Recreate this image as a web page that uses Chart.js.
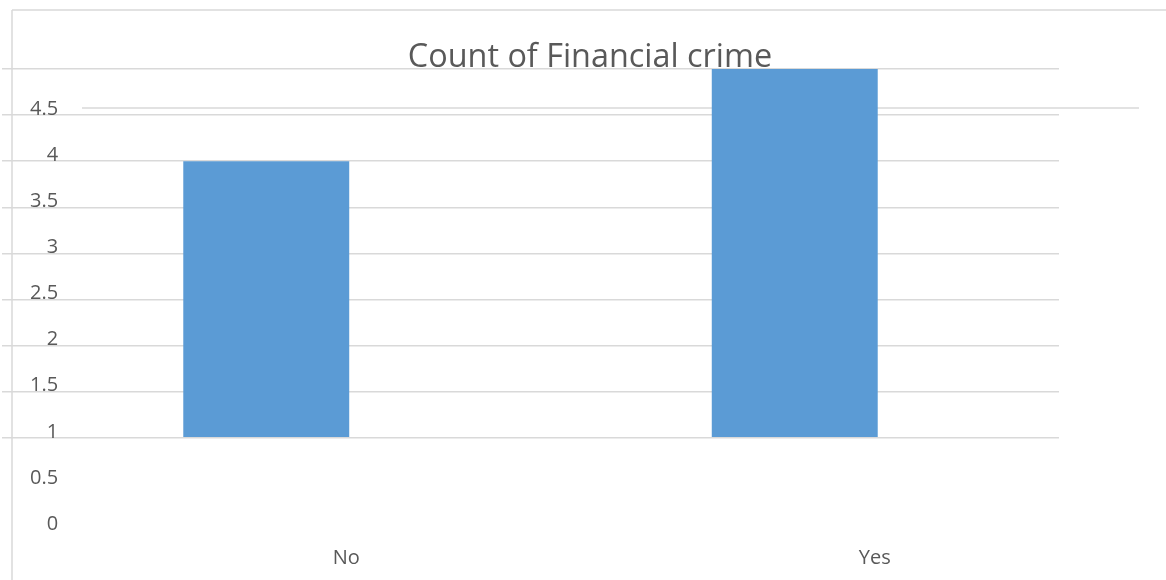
<!DOCTYPE html>
<html>
<head>
<meta charset="utf-8">
<script src="https://cdn.jsdelivr.net/npm/chart.js@4"></script>
<style>
  html, body { margin: 0; padding: 0; background: #fff; }
  #wrap { width: 1166px; height: 580px; position: relative; }
</style>
</head>
<body>
<div id="wrap"><canvas id="crime"></canvas></div>
<script>
const categories = ["No", "Yes"];
const counts = [4, 5];
const yTickLabels = ["0", "0.5", "1", "1.5", "2", "2.5", "3", "3.5", "4", "4.5"];
const chartTitle = "Count of Financial crime";

const lineGrey = "#d9d9d9";
const textGrey = "#595959";

// frame lines and the title text
const frame = {
  id: "frame",
  beforeDatasetsDraw(chart) {
    const c = chart.ctx;
    c.save();
    c.strokeStyle = lineGrey;
    c.lineWidth = 1.5;
    c.beginPath();
    c.moveTo(12, 10); c.lineTo(12, 580);
    c.moveTo(12, 10); c.lineTo(1166, 10);
    c.moveTo(82, 108); c.lineTo(1139, 108);
    c.stroke();
    c.restore();
  },
  afterDraw(chart) {
    const c = chart.ctx;
    c.save();
    c.fillStyle = textGrey;
    c.font = "32.4px 'Open Sans'";
    c.textAlign = "center";
    c.textBaseline = "alphabetic";
    c.fillText(chartTitle, 590, 67);
    c.restore();
  }
};

const ctx = document.getElementById("crime");
new Chart(ctx, {
  type: "bar",
  data: {
    labels: categories,
    datasets: [{
      label: "Count",
      data: counts,
      base: 1,
      backgroundColor: "#5b9bd5",
      categoryPercentage: 0.314,
      barPercentage: 1
    }]
  },
  options: {
    responsive: true,
    maintainAspectRatio: false,
    animation: false,
    // the mirrored y axis still reserves its own width, so pull it off the left edge
    layout: { padding: { top: 69, left: -54, right: 107, bottom: -6 } },
    plugins: {
      legend: { display: false },
      tooltip: { enabled: false }
    },
    scales: {
      x: {
        offset: true,
        grid: { display: false, drawTicks: false },
        border: { display: false },
        ticks: {
          color: textGrey,
          font: { family: "'Open Sans'", size: 20 },
          padding: 16,
          labelOffset: 80
        }
      },
      y: {
        min: 0,
        max: 5,
        border: { display: false },
        grid: {
          drawTicks: false,
          lineWidth: 1.5,
          color: (c) => (c.tick && c.tick.value >= 1 ? lineGrey : "rgba(0,0,0,0)")
        },
        ticks: {
          stepSize: 0.5,
          mirror: true,
          crossAlign: "far",
          padding: 28,
          labelOffset: -6,
          color: textGrey,
          font: { family: "'Open Sans'", size: 20 },
          callback: (v, i) => (yTickLabels[i] !== undefined ? yTickLabels[i] : "")
        }
      }
    }
  },
  plugins: [frame]
});
</script>
</body>
</html>
